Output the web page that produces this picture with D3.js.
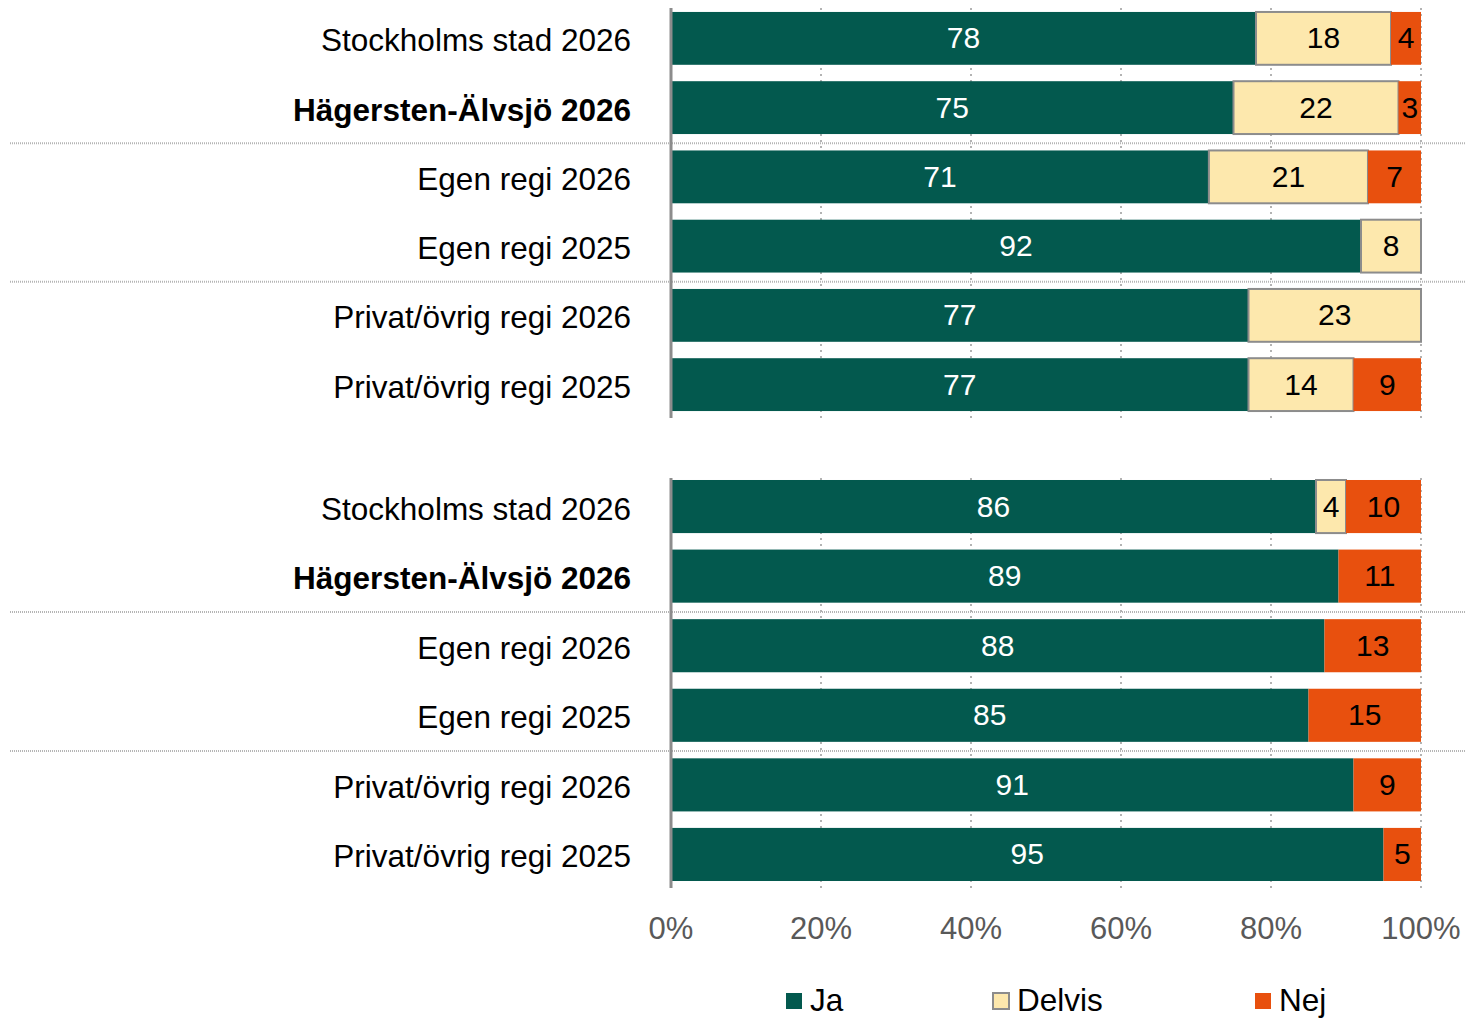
<!DOCTYPE html>
<html>
<head>
<meta charset="utf-8">
<script src="https://cdn.jsdelivr.net/npm/d3@7"></script>
<style>
  body { margin: 0; background: #fff; }
  text { font-family: "Liberation Sans", Arial, sans-serif; }
</style>
</head>
<body>
<div id="chart"></div>
<script>
// data
var kategorier = ["Stockholms stad 2026", "Hägersten-Älvsjö 2026", "Egen regi 2026",
    "Egen regi 2025", "Privat/övrig regi 2026", "Privat/övrig regi 2025"];
var serier = ["Ja", "Delvis", "Nej"];

var ja1 = [78, 75, 71, 92, 77, 77];
var delvis1 = [18, 22, 21, 8, 23, 14];
var nej1 = [4, 3, 7, 0, 0, 9];

var ja2 = [86, 89, 88, 85, 91, 95];
var delvis2 = [4, 0, 0, 0, 0, 0];
var nej2 = [10, 11, 13, 15, 9, 5];

var ticks = [0, 0.2, 0.4, 0.6, 0.8, 1];

var farger = { Ja: "#03594e", Delvis: "#fde8ad", Nej: "#e8500e" };
var textfarg = { Ja: "#fff", Delvis: "#000", Nej: "#000" };

var W = 1466, H = 1019;
var svg = d3.select("#chart").append("svg")
    .attr("width", W)
    .attr("height", H);

var x = d3.scaleLinear().domain([0, 1]).range([671, 1421]);

// ett block (panel) per fråga
function panel(ja, delvis, nej, top, bottom, bandTop, bandBottom) {
    var rows = kategorier.map(function (k, i) {
        return { kat: k, Ja: ja[i], Delvis: delvis[i], Nej: nej[i] };
    });
    var y = d3.scaleBand().domain(kategorier).range([bandTop, bandBottom]).paddingInner(0.237).paddingOuter(0.1185);

    var g = svg.append("g");

    // rutnät
    g.selectAll("line.grid")
        .data(ticks.slice(1))
        .enter().append("line")
        .attr("x1", d => x(d)).attr("x2", d => x(d))
        .attr("y1", top).attr("y2", bottom)
        .attr("stroke", "#b3b3b3")
        .attr("stroke-width", 2)
        .attr("stroke-dasharray", "2,4");

    var stack = d3.stack().keys(serier).offset(d3.stackOffsetExpand);
    var lager = stack(rows);

    lager.forEach(function (l) {
        var key = l.key;
        var seg = g.selectAll("g.seg-" + key)
            .data(l.filter(d => d.data[key] > 0))
            .enter().append("g");
        seg.append("rect")
            .attr("x", d => x(d[0]))
            .attr("y", d => y(d.data.kat))
            .attr("width", d => x(d[1]) - x(d[0]))
            .attr("height", y.bandwidth())
            .attr("fill", farger[key])
            .attr("stroke", key == "Delvis" ? "#8c8c8c" : "none")
            .attr("stroke-width", 2);
        seg.append("text")
            .attr("x", d => (x(d[0]) + x(d[1])) / 2)
            .attr("y", d => y(d.data.kat) + y.bandwidth() / 2 + 10)
            .attr("text-anchor", "middle")
            .attr("font-size", 30)
            .attr("fill", textfarg[key])
            .text(d => d.data[key]);
    });

    // kategorietiketter
    g.selectAll("text.kat")
        .data(kategorier)
        .enter().append("text")
        .attr("x", 631)
        .attr("y", d => y(d) + y.bandwidth() / 2 + 13)
        .attr("text-anchor", "end")
        .attr("font-size", 31.5)
        .attr("font-weight", (d, i) => i == 1 ? "bold" : "normal")
        .attr("fill", "#000")
        .text(d => d);

    // avdelare mellan grupperna
    [1, 3].forEach(function (i) {
        var yy = (y(kategorier[i]) + y.bandwidth() + y(kategorier[i + 1])) / 2 + 1;
        g.append("line")
            .attr("x1", 10).attr("x2", W)
            .attr("y1", yy).attr("y2", yy)
            .attr("stroke", "#b5b5b5")
            .attr("stroke-width", 2)
            .attr("stroke-dasharray", "1,1");
    });

    // y-axel
    g.append("line")
        .attr("x1", x(0)).attr("x2", x(0))
        .attr("y1", top).attr("y2", bottom)
        .attr("stroke", "#8c8c8c")
        .attr("stroke-width", 3);
}

panel(ja1, delvis1, nej1, 8, 418, 3.75, 419.25);
panel(ja2, delvis2, nej2, 478, 888, 471.75, 889.25);

// x-axel etiketter
svg.selectAll("text.tick")
    .data(ticks)
    .enter().append("text")
    .attr("x", d => x(d))
    .attr("y", 939)
    .attr("text-anchor", "middle")
    .attr("font-size", 31)
    .attr("fill", "#595959")
    .text(d => d3.format(".0%")(d));

// legend
var legendX = [786, 993, 1255];
var leg = svg.selectAll("g.legend")
    .data(serier)
    .enter().append("g")
    .attr("transform", (d, i) => "translate(" + legendX[i] + ",993)");
leg.append("rect")
    .attr("width", 16).attr("height", 16)
    .attr("fill", d => farger[d])
    .attr("stroke", d => d == "Delvis" ? "#8c8c8c" : "none")
    .attr("stroke-width", 2);
leg.append("text")
    .attr("x", 24)
    .attr("y", 18)
    .attr("font-size", 31.5)
    .attr("fill", "#000")
    .text(d => d);
</script>
</body>
</html>
